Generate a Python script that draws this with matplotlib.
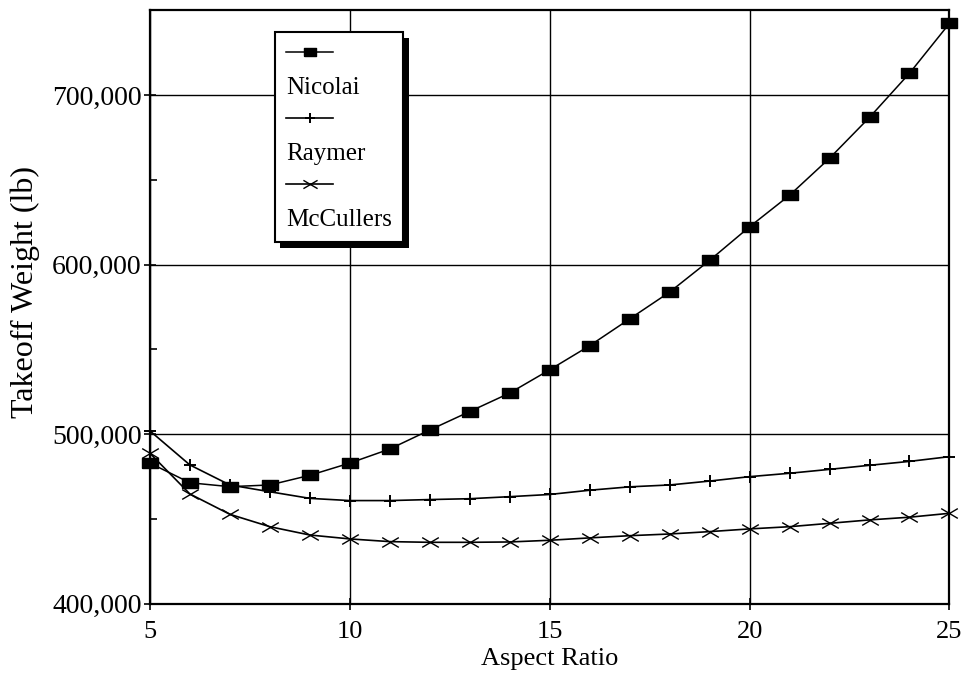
import matplotlib
matplotlib.use('Agg')
import matplotlib.pyplot as plt
import matplotlib.patheffects as pe
from matplotlib.lines import Line2D
from matplotlib.path import Path
from matplotlib.ticker import MultipleLocator, FuncFormatter

plt.rcParams['font.family'] = ['Liberation Serif', 'DejaVu Serif']

aspectRatio = [5, 6, 7, 8, 9, 10, 11, 12, 13, 14, 15, 16, 17, 18, 19, 20, 21, 22, 23, 24, 25]

nicolai = [483000, 471400, 469100, 470100, 475800, 483000, 491300, 502500, 513400, 524300,
           538000, 552200, 568000, 583800, 602500, 622300, 640900, 662700, 686800, 712800, 742200]

raymer = [502000, 481900, 470100, 466100, 462200, 460900, 460900, 461500, 462000, 463200,
          464500, 467000, 469000, 470100, 472400, 475000, 477000, 479300, 481700, 484000, 486800]

mcCullers = [488800, 464800, 452800, 445500, 440600, 438300, 436700, 436300, 436300, 436500,
             437500, 438900, 440200, 441200, 442600, 444200, 445500, 447500, 449500, 451100, 453400]

# wide rectangle marker for Nicolai, flattened cross for McCullers
rectMarker = [(-1.6, -1.0), (1.6, -1.0), (1.6, 1.0), (-1.6, 1.0), (-1.6, -1.0)]
crossMarker = Path([(-1.7, -1.0), (1.7, 1.0), (-1.7, 1.0), (1.7, -1.0)],
                   [Path.MOVETO, Path.LINETO, Path.MOVETO, Path.LINETO])


def Main():
    fig = plt.figure(figsize=(9.61, 6.77), dpi=100)
    ax = fig.add_axes([0.156, 0.108, 0.832, 0.877])

    lNic, = ax.plot(aspectRatio, nicolai, color='black', lw=1.1, clip_on=False, zorder=3,
                    marker=rectMarker, markersize=11, markerfacecolor='black')
    lRay, = ax.plot(aspectRatio, raymer, color='black', lw=1.2, clip_on=False, zorder=3,
                    marker='+', markersize=9, markeredgewidth=1.4)
    lMcc, = ax.plot(aspectRatio, mcCullers, color='black', lw=1.2, clip_on=False, zorder=3,
                    marker=crossMarker, markersize=12, markeredgewidth=1.0)

    ax.set_xlim(5, 25)
    ax.set_ylim(400000, 750000)
    ax.xaxis.set_major_locator(MultipleLocator(5))
    ax.yaxis.set_major_locator(MultipleLocator(100000))
    ax.yaxis.set_minor_locator(MultipleLocator(50000))
    ax.yaxis.set_major_formatter(FuncFormatter(lambda v, p: '{:,.0f}'.format(v)))

    ax.grid(True, which='major', color='black', lw=1.0)
    for s in ax.spines.values():
        s.set_linewidth(1.6)

    ax.tick_params(which='major', direction='inout', length=8, width=1.2, colors='black')
    ax.tick_params(which='minor', direction='in', length=5, width=1.2)
    ax.tick_params(axis='x', pad=8, labelsize=19)
    ax.tick_params(axis='y', pad=2, labelsize=20)

    ax.set_xlabel('Aspect Ratio', fontsize=19, labelpad=4)
    ax.set_ylabel('Takeoff Weight (lb)', fontsize=23)
    ax.yaxis.set_label_coords(-0.137, 0.525)

    # legend: handle on one row, its name on the row below
    blank = Line2D([], [], linestyle='none', marker=None)
    handles = [lNic, blank, lRay, blank, lMcc, blank]
    labels = ['', 'Nicolai', '', 'Raymer', '', 'McCullers']
    leg = ax.legend(handles, labels, loc='upper left', bbox_to_anchor=(0.156, 0.963),
                    borderaxespad=0, fontsize=18, handlelength=1.9, handletextpad=-1.9,
                    labelspacing=0.42, borderpad=0.45, fancybox=False, shadow=False,
                    framealpha=1, edgecolor='black', markerscale=0.85)
    frame = leg.get_frame()
    frame.set_linewidth(1.5)
    frame.set_path_effects([pe.SimplePatchShadow(offset=(4, -4), shadow_rgbFace='black', alpha=1),
                            pe.Normal()])

    fig.savefig('out.png', dpi=100)


if __name__ == "__main__":
    Main()
